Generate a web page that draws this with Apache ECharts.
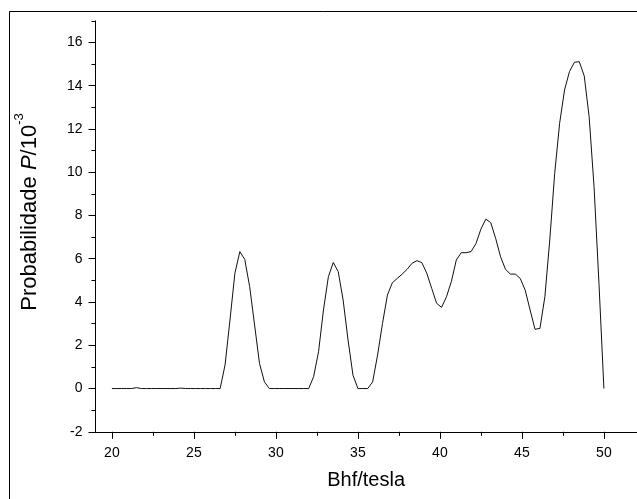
<!DOCTYPE html>
<html>
<head>
<meta charset="utf-8">
<script src="https://cdn.jsdelivr.net/npm/echarts@6/dist/echarts.min.js"></script>
<style>
html,body{margin:0;padding:0;background:#fff;}
#chart{width:637px;height:499px;}
</style>
</head>
<body>
<div id="chart"></div>
<script>
// Bhf (tesla) sample positions
const bhf = [20.0,20.3,20.6,20.9,21.2,21.5,21.8,22.1,22.4,22.7,
  23.0,23.3,23.6,23.9,24.2,24.5,24.8,25.1,25.4,25.7,
  26.0,26.3,26.6,26.9,27.2,27.5,27.8,28.1,28.4,28.7,
  29.0,29.3,29.6,29.9,30.2,30.5,30.8,31.1,31.4,31.7,
  32.0,32.3,32.6,32.9,33.2,33.5,33.8,34.1,34.4,34.7,
  35.0,35.3,35.6,35.9,36.2,36.5,36.8,37.1,37.4,37.7,
  38.0,38.3,38.6,38.9,39.2,39.5,39.8,40.1,40.4,40.7,
  41.0,41.3,41.6,41.9,42.2,42.5,42.8,43.1,43.4,43.7,
  44.0,44.3,44.6,44.9,45.2,45.5,45.8,46.1,46.4,46.7,
  47.0,47.3,47.6,47.9,48.2,48.5,48.8,49.1,49.4,49.7,
  50.0];
// Probability P (x 10^-3)
const prob = [0,0,0,0,0,0.04,0,0,0,0,
  0,0,0,0,0.02,0,0,0,0,0,
  0,0,0,1.09,3.17,5.33,6.33,5.97,4.71,2.94,
  1.16,0.31,0,0,0,0,0,0,0,0,
  0,0.55,1.70,3.63,5.17,5.83,5.40,4.09,2.24,0.62,
  0,0,0,0.31,1.55,3.01,4.32,4.89,5.09,5.29,
  5.51,5.79,5.91,5.82,5.33,4.63,3.94,3.75,4.24,4.95,
  5.94,6.28,6.28,6.33,6.70,7.37,7.83,7.67,6.94,6.09,
  5.51,5.29,5.29,5.09,4.55,3.63,2.74,2.78,4.24,6.87,
  9.95,12.26,13.80,14.65,15.08,15.11,14.45,12.57,9.33,4.86,
  0];
const xMajorTicks = [20,25,30,35,40,45,50];
const xMinorTicks = [22.5,27.5,32.5,37.5,42.5,47.5];
const yMajorTicks = [-2,0,2,4,6,8,10,12,14,16];
const yMinorTicks = [-1,1,3,5,7,9,11,13,15,17];

const FONT = '"Liberation Sans", Arial, sans-serif';
const chart = echarts.init(document.getElementById('chart'), null, {renderer:'canvas'});
const axisLine = {show:true, onZero:false, lineStyle:{color:'#000', width:1}};
chart.setOption({
  animation:false,
  backgroundColor:'#fff',
  grid:{left:95.5, right:0.3, top:20.8, bottom:67.2, containLabel:false},
  xAxis:[
    {type:'value', min:19, max:52, position:'bottom',
     axisLine:axisLine,
     axisTick:{show:true, inside:false, length:7, customValues:xMajorTicks, lineStyle:{color:'#000', width:1}},
     axisLabel:{show:true, customValues:xMajorTicks, margin:14, color:'#000', fontSize:14, fontFamily:FONT},
     splitLine:{show:false},
     name:'Bhf/tesla', nameLocation:'middle', nameGap:39,
     nameTextStyle:{color:'#000', fontSize:20, fontFamily:FONT}},
    {type:'value', min:19, max:52, position:'bottom',
     axisLine:{show:false, onZero:false},
     axisTick:{show:true, inside:false, length:4, customValues:xMinorTicks, lineStyle:{color:'#000', width:1}},
     axisLabel:{show:false},
     splitLine:{show:false}}
  ],
  yAxis:[
    {type:'value', min:-2, max:17, position:'left',
     axisLine:axisLine,
     axisTick:{show:true, inside:false, length:7, customValues:yMajorTicks, lineStyle:{color:'#000', width:1}},
     axisLabel:{show:true, customValues:yMajorTicks, margin:13, color:'#000', fontSize:14, fontFamily:FONT},
     splitLine:{show:false}},
    {type:'value', min:-2, max:17, position:'left',
     axisLine:{show:false, onZero:false},
     axisTick:{show:true, inside:false, length:4, customValues:yMinorTicks, lineStyle:{color:'#000', width:1}},
     axisLabel:{show:false},
     splitLine:{show:false}}
  ],
  series:[{
    type:'line', xAxisIndex:0, yAxisIndex:0,
    data: bhf.map((x,i)=>[x, prob[i]]),
    showSymbol:false, symbol:'none', smooth:false,
    lineStyle:{color:'#111', width:1}
  }],
  graphic:[
    {type:'rect', shape:{x:9.5, y:11.5, width:800, height:800},
     style:{fill:'none', stroke:'#000', lineWidth:1}, silent:true},
    {type:'text', x:27, y:212, rotation:Math.PI/2,
     style:{
       text:'{n|Probabilidade }{i|P}{n|/10}{s|-3}',
       align:'center', verticalAlign:'middle',
       fill:'#000', font:'22px ' + FONT,
       rich:{
         n:{fontSize:22, fontFamily:FONT, fill:'#000', lineHeight:28, verticalAlign:'bottom'},
         i:{fontSize:22, fontFamily:FONT, fontStyle:'italic', fill:'#000', lineHeight:28, verticalAlign:'bottom'},
         s:{fontSize:13, fontFamily:FONT, fill:'#000', lineHeight:28, verticalAlign:'top'}
       }
     }}
  ]
});
</script>
</body>
</html>
